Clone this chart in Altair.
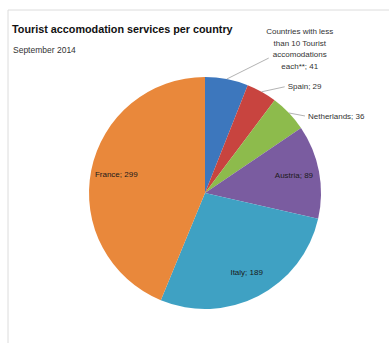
import altair as alt
import pandas as pd

# ---- data ----
categories = ["Countries with less than 10 Tourist accomodations each**",
              "Spain", "Netherlands", "Austria", "Italy", "France"]
values = [41, 29, 36, 89, 189, 299]
label_lines = [["Countries with less", "than 10 Tourist", "accomodations", "each**; 41"],
               ["Spain; 29"], ["Netherlands; 36"], ["Austria; 89"], ["Italy; 189"], ["France; 299"]]
colors = ["#3D77BD", "#C8443F", "#8DBB4C", "#7A5CA0", "#3FA1C3", "#E9883B"]
inside = [False, False, False, True, True, True]

title_text = "Tourist accomodation services per country"
subtitle_text = "September 2014"

W, H = 389, 343
CX, CY, R = 205, 193, 116
RI = 0.78 * R
FONT = "Liberation Sans Narrow, Liberation Sans, Arial"

df = pd.DataFrame({
    "category": categories,
    "value": values,
    "order": list(range(len(categories))),
    "label": ["\n".join(l) for l in label_lines],
    "inside": inside,
})
one = pd.DataFrame({"title": [title_text], "subtitle": [subtitle_text]})

xs = alt.Scale(domain=[0, W], nice=False, zero=False)
ys = alt.Scale(domain=[0, H], nice=False, zero=False, reverse=True)

base = (alt.Chart(df)
        .transform_joinaggregate(total="sum(value)")
        .transform_window(cum="sum(value)", sort=[alt.SortField("order")], frame=[None, 0])
        .transform_calculate(am="(datum.cum - datum.value/2) / datum.total * 2 * PI")
        .transform_calculate(ex=f"{CX} + {R} * sin(datum.am)",
                             ey=f"{CY} - {R} * cos(datum.am)",
                             ix=f"{CX} + {RI} * sin(datum.am)",
                             iy=f"{CY} - {RI} * cos(datum.am)"))

pie = alt.Chart(df).mark_arc(outerRadius=R).encode(
    theta=alt.Theta("value:Q", stack=True),
    color=alt.Color("category:N", scale=alt.Scale(domain=categories, range=colors), legend=None),
    order=alt.Order("order:Q"),
    x=alt.value(CX), y=alt.value(CY),
)

inside_labels = base.transform_filter("datum.inside").mark_text(
    font=FONT, fontSize=8, fontWeight="normal", color="#1a1a1a", align="center", baseline="middle"
).encode(x=alt.X("ix:Q", scale=xs, axis=None), y=alt.Y("iy:Q", scale=ys, axis=None), text="label:N")

layers = [pie, inside_labels]

# outside labels: (category, leader dx, leader dy, text dx, text dy, align)
outside = [
    (categories[0], 42, -21, 31, -26, "center"),
    ("Spain", 23, -5, 3, 0, "left"),
    ("Netherlands", 16, 3, 3, 1, "left"),
]
for cat, ldx, ldy, tdx, tdy, al in outside:
    b = base.transform_filter(alt.datum.category == cat).transform_calculate(
        lx=f"datum.ex + ({ldx})", ly=f"datum.ey + ({ldy})")
    leader = b.mark_rule(color="#a0a0a0", strokeWidth=0.8).encode(
        x=alt.X("ex:Q", scale=xs, axis=None), y=alt.Y("ey:Q", scale=ys, axis=None),
        x2="lx:Q", y2="ly:Q")
    txt = b.transform_calculate(tx=f"datum.lx + ({tdx})", ty=f"datum.ly + ({tdy})").mark_text(
        font=FONT, fontSize=8, fontWeight="normal", color="#333333", align=al, baseline="middle",
        lineBreak="\n", lineHeight=11.5
    ).encode(x=alt.X("tx:Q", scale=xs, axis=None), y=alt.Y("ty:Q", scale=ys, axis=None), text="label:N")
    layers += [leader, txt]

frame_top = alt.Chart(one).mark_rule(color="#dcdcdc", strokeWidth=1).encode(
    x=alt.value(8), x2=alt.value(W), y=alt.value(10))
frame_left = alt.Chart(one).mark_rule(color="#dcdcdc", strokeWidth=1).encode(
    x=alt.value(8), y=alt.value(10), y2=alt.value(H))

title = alt.Chart(one).mark_text(
    font=FONT, fontSize=10.8, fontWeight="bold", color="#111111",
    align="left", baseline="middle").encode(x=alt.value(12), y=alt.value(30), text="title:N")
subtitle = alt.Chart(one).mark_text(
    font=FONT, fontSize=8.5, fontWeight="normal", color="#333333",
    align="left", baseline="middle").encode(x=alt.value(13), y=alt.value(50), text="subtitle:N")

chart = alt.layer(frame_top, frame_left, *layers, title, subtitle).properties(
    width=W, height=H, padding=0, autosize=alt.AutoSizeParams(type="none"),
    background="white"
).configure_view(stroke=None)

chart.save("out.html", embed_options={"renderer": "svg", "actions": False})
